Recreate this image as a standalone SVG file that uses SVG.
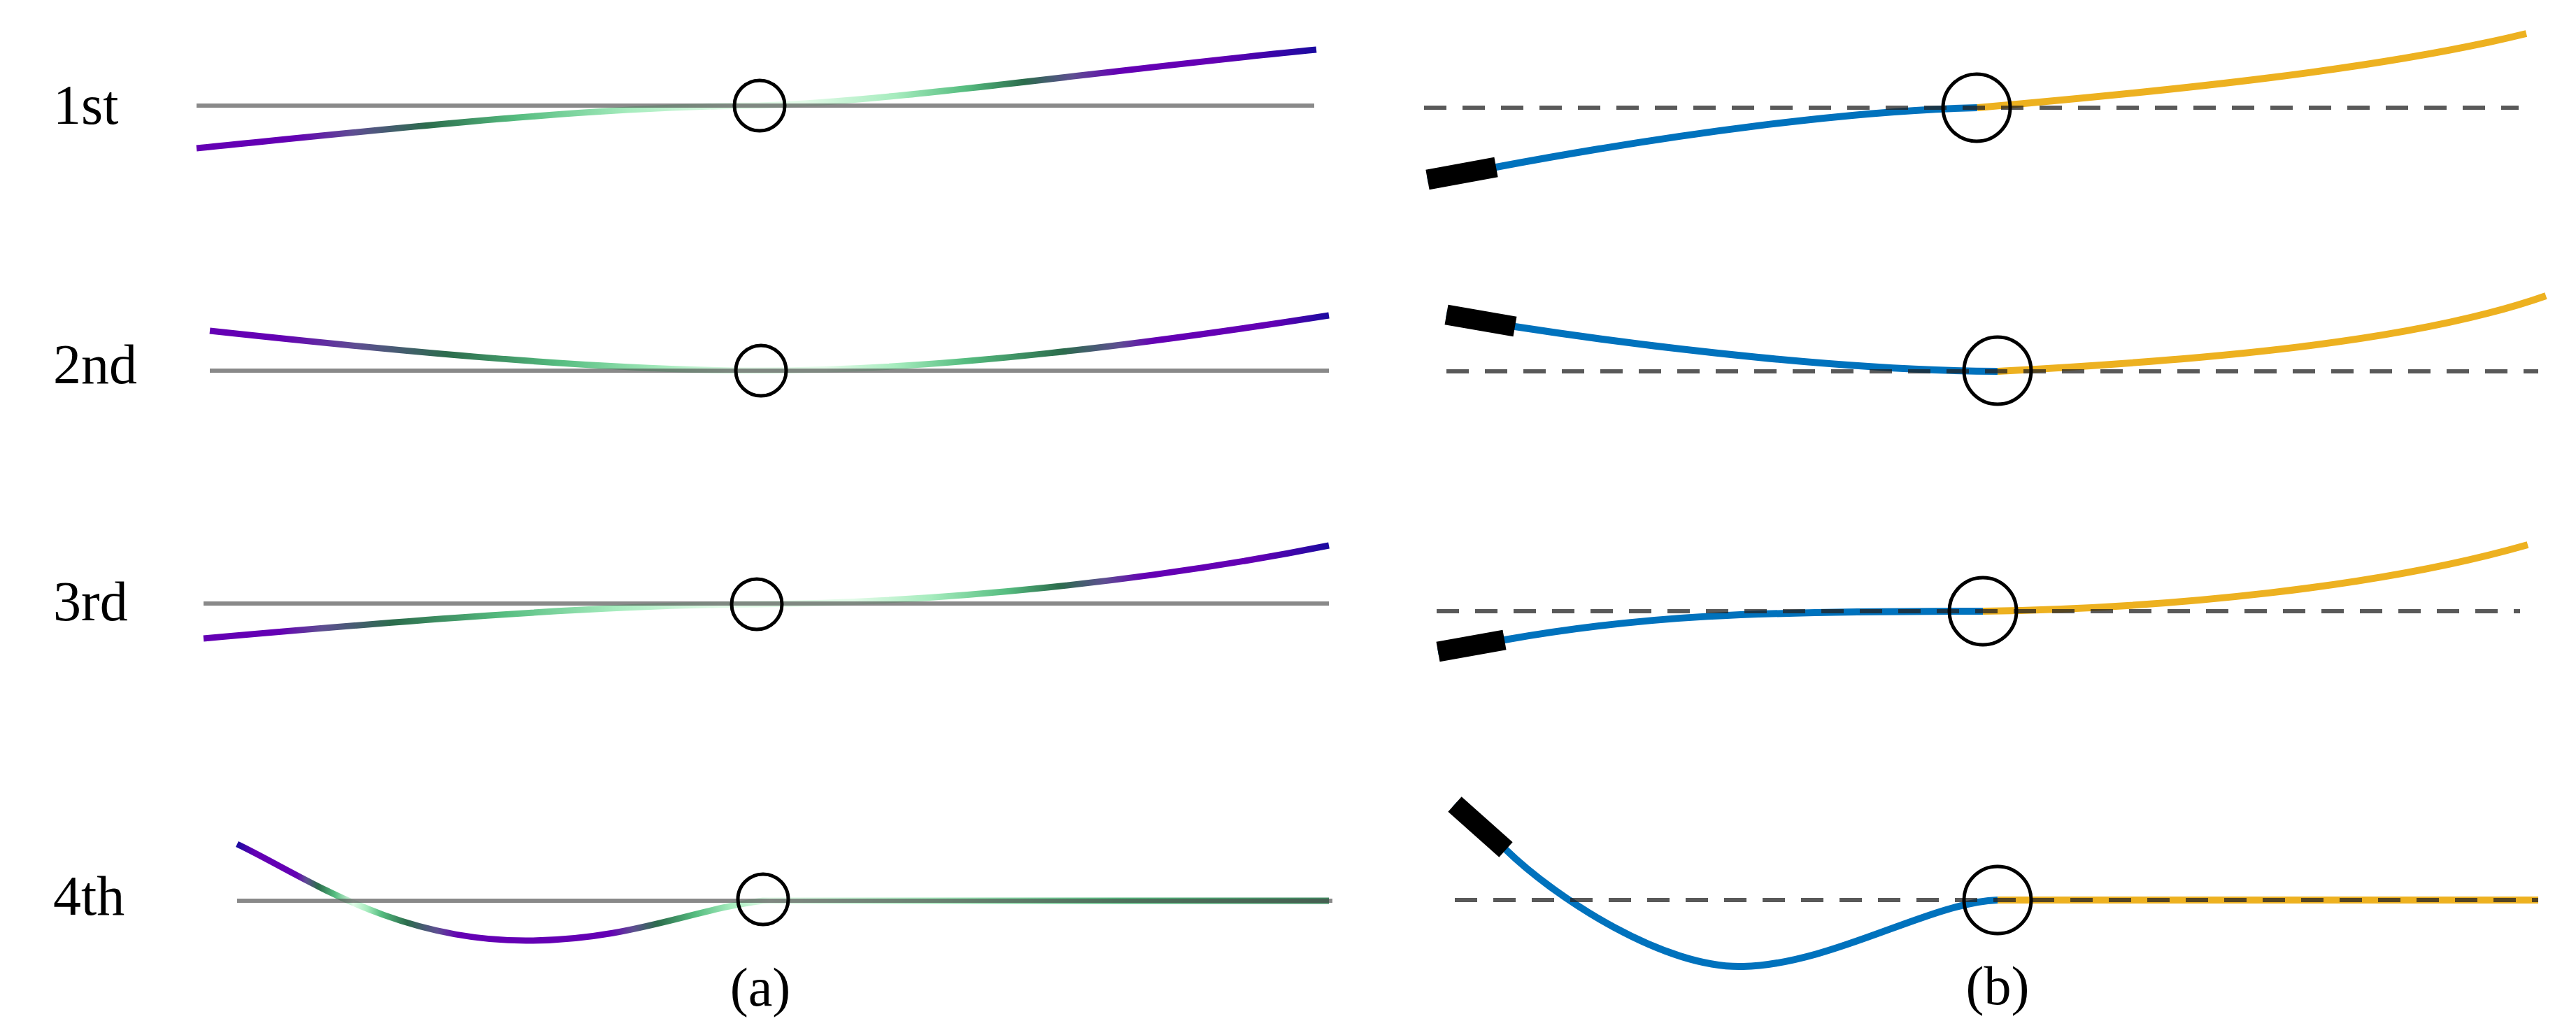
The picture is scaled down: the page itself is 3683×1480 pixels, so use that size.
<svg xmlns="http://www.w3.org/2000/svg" width="3683" height="1480" viewBox="0 0 3683 1480">
<style>
.lbl{font-family:"Liberation Serif","DejaVu Serif",serif;font-size:80px;fill:#000}
.cap{font-family:"Liberation Serif","DejaVu Serif",serif;font-size:78px;fill:#000;text-anchor:middle}
.ref{stroke:#4a4a4a;stroke-opacity:0.65;stroke-width:6;fill:none}
.dash{stroke:#222;stroke-opacity:0.75;stroke-width:6;stroke-dasharray:32 23;fill:none}
.ring{fill:none;stroke:#000;stroke-width:5}
.crv{fill:none;stroke-width:9;stroke-linecap:butt}
.blue{fill:none;stroke:#0072bd;stroke-width:10}
.orng{fill:none;stroke:#edb120;stroke-width:10}
.blk{stroke:#000;stroke-width:29;stroke-linecap:butt}
</style>
<defs>
<linearGradient id="g1" gradientUnits="userSpaceOnUse" x1="281" y1="0" x2="1882" y2="0">
<stop offset="0" stop-color="#6400b4"/><stop offset="0.087" stop-color="#6400b4"/>
<stop offset="0.14" stop-color="#5e4e92"/><stop offset="0.2055" stop-color="#2b6c4c"/>
<stop offset="0.2867" stop-color="#56bd80"/><stop offset="0.3866" stop-color="#a6ecbe"/>
<stop offset="0.4803" stop-color="#e2fbe8"/><stop offset="0.5428" stop-color="#e2fbe8"/>
<stop offset="0.624" stop-color="#a6ecbe"/><stop offset="0.6864" stop-color="#56bd80"/>
<stop offset="0.7395" stop-color="#2b6c4c"/><stop offset="0.7826" stop-color="#5e4e92"/>
<stop offset="0.8238" stop-color="#6400b4"/><stop offset="0.9113" stop-color="#6400b4"/>
<stop offset="1" stop-color="#1a0aa0"/>
</linearGradient>
<linearGradient id="g2" gradientUnits="userSpaceOnUse" x1="300" y1="0" x2="1900" y2="0">
<stop offset="0" stop-color="#6400b4"/><stop offset="0.0625" stop-color="#6400b4"/>
<stop offset="0.131" stop-color="#5e4e92"/><stop offset="0.2125" stop-color="#2b6c4c"/>
<stop offset="0.3125" stop-color="#56bd80"/><stop offset="0.406" stop-color="#a6ecbe"/>
<stop offset="0.475" stop-color="#e2fbe8"/><stop offset="0.55" stop-color="#e2fbe8"/>
<stop offset="0.6125" stop-color="#a6ecbe"/><stop offset="0.675" stop-color="#56bd80"/>
<stop offset="0.7625" stop-color="#2b6c4c"/><stop offset="0.8125" stop-color="#5e4e92"/>
<stop offset="0.84375" stop-color="#6400b4"/><stop offset="0.949" stop-color="#6400b4"/>
<stop offset="1" stop-color="#1a0aa0"/>
</linearGradient>
<linearGradient id="g3" gradientUnits="userSpaceOnUse" x1="291" y1="0" x2="1900" y2="0">
<stop offset="0" stop-color="#6400b4"/><stop offset="0.0677" stop-color="#6400b4"/>
<stop offset="0.105" stop-color="#5e4e92"/><stop offset="0.1678" stop-color="#2b6c4c"/>
<stop offset="0.2666" stop-color="#56bd80"/><stop offset="0.366" stop-color="#a6ecbe"/>
<stop offset="0.4593" stop-color="#e2fbe8"/><stop offset="0.5774" stop-color="#e2fbe8"/>
<stop offset="0.6457" stop-color="#a6ecbe"/><stop offset="0.714" stop-color="#56bd80"/>
<stop offset="0.7607" stop-color="#2b6c4c"/><stop offset="0.8011" stop-color="#5e4e92"/>
<stop offset="0.8359" stop-color="#6400b4"/><stop offset="0.934" stop-color="#6400b4"/>
<stop offset="1" stop-color="#1a0aa0"/>
</linearGradient>
<linearGradient id="g4" gradientUnits="userSpaceOnUse" x1="339" y1="0" x2="1900" y2="0">
<stop offset="0" stop-color="#1a0aa0"/><stop offset="0.016" stop-color="#6400b4"/>
<stop offset="0.0545" stop-color="#6400b4"/><stop offset="0.0634" stop-color="#5e4e92"/>
<stop offset="0.0743" stop-color="#2b6c4c"/><stop offset="0.0897" stop-color="#56bd80"/>
<stop offset="0.1063" stop-color="#e2fbe8"/><stop offset="0.1192" stop-color="#a6ecbe"/>
<stop offset="0.132" stop-color="#56bd80"/><stop offset="0.1557" stop-color="#2b6c4c"/>
<stop offset="0.1832" stop-color="#5e4e92"/><stop offset="0.2024" stop-color="#6400b4"/>
<stop offset="0.3421" stop-color="#6400b4"/><stop offset="0.3626" stop-color="#5e4e92"/>
<stop offset="0.385" stop-color="#2b6c4c"/><stop offset="0.4202" stop-color="#56bd80"/>
<stop offset="0.4523" stop-color="#a6ecbe"/><stop offset="0.4875" stop-color="#e2fbe8"/>
<stop offset="0.6348" stop-color="#a6ecbe"/><stop offset="0.8078" stop-color="#56bd80"/>
<stop offset="1" stop-color="#3f8a60"/>
</linearGradient>
</defs>
<rect width="3683" height="1480" fill="#fff"/>

<g id="labels">
<text class="lbl" x="76" y="177">1st</text>
<text class="lbl" x="76" y="548">2nd</text>
<text class="lbl" x="76" y="887">3rd</text>
<text class="lbl" x="76" y="1308">4th</text>
<text class="cap" x="1087" y="1438">(a)</text>
<text class="cap" x="2856" y="1436">(b)</text>
</g>

<g id="a1">
<path class="crv" stroke="url(#g1)" d="M281,212 C550,185 850,152 1086,151 C1280,145 1580,100 1882,71"/>
<line class="ref" x1="281" y1="151" x2="1879" y2="151"/>
<circle class="ring" cx="1086" cy="151" r="36"/>
</g>
<g id="a2">
<path class="crv" stroke="url(#g2)" d="M300,473 C550,500 850,530 1088,530 C1350,530 1650,490 1900,451"/>
<line class="ref" x1="300" y1="530" x2="1900" y2="530"/>
<circle class="ring" cx="1088" cy="530" r="36"/>
</g>
<g id="a3">
<path class="crv" stroke="url(#g3)" d="M291,913 C550,890 850,865 1082,864 C1350,862 1650,830 1900,780"/>
<line class="ref" x1="291" y1="863" x2="1900" y2="863"/>
<circle class="ring" cx="1082" cy="864" r="36"/>
</g>
<g id="a4">
<path class="crv" stroke="url(#g4)" d="M339,1207 C430,1250 560,1345 752,1345 C900,1345 990,1300 1091,1288 L1900,1288"/>
<line class="ref" x1="339" y1="1288" x2="1905" y2="1288"/>
<circle class="ring" cx="1091" cy="1286" r="36"/>
</g>

<g id="b1">
<path class="blue" d="M2041,257 L2139,239 C2400,190 2650,158 2827,154"/>
<path class="orng" d="M2827,154 C3100,130 3400,100 3612,48"/>
<line class="dash" x1="2036" y1="154" x2="3601" y2="154"/>
<line class="blk" x1="2041" y1="257" x2="2139" y2="239"/>
<circle class="ring" cx="2826" cy="154" r="48"/>
</g>
<g id="b2">
<path class="blue" d="M2068,450 L2166,467 C2380,500 2650,530 2856,531"/>
<path class="orng" d="M2856,531 C3150,515 3450,490 3640,423"/>
<line class="dash" x1="2068" y1="531" x2="3629" y2="531"/>
<line class="blk" x1="2068" y1="450" x2="2166" y2="467"/>
<circle class="ring" cx="2856" cy="530" r="48"/>
</g>
<g id="b3">
<path class="blue" d="M2056,932 L2151,915 C2350,880 2500,874 2835,874"/>
<path class="orng" d="M2835,874 C3100,870 3400,840 3614,779"/>
<line class="dash" x1="2054" y1="874" x2="3603" y2="874"/>
<line class="blk" x1="2056" y1="932" x2="2151" y2="915"/>
<circle class="ring" cx="2835" cy="874" r="48"/>
</g>
<g id="b4">
<path class="blue" d="M2080,1150 L2153,1215 C2225,1285 2380,1385 2492,1382 C2620,1379 2760,1290 2856,1287"/>
<path class="orng" d="M2856,1287 L3629,1287"/>
<line class="dash" x1="2080" y1="1287" x2="3629" y2="1287"/>
<line class="blk" x1="2080" y1="1150" x2="2153" y2="1215"/>
<circle class="ring" cx="2856" cy="1287" r="48"/>
</g>
</svg>
